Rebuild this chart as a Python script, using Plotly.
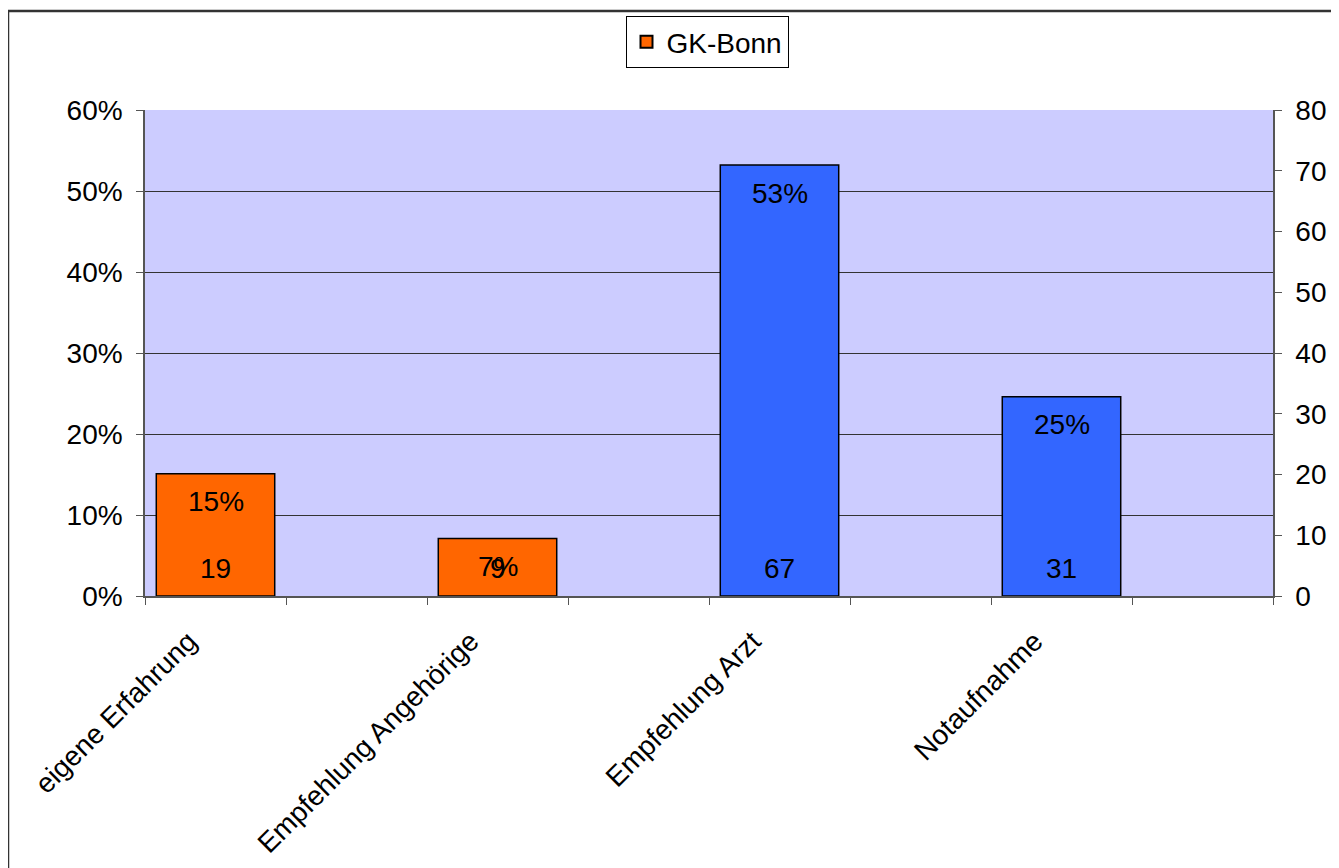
import plotly.graph_objects as go

categories = ["eigene Erfahrung", "Empfehlung Angehörige", "Empfehlung Arzt", "Notaufnahme"]
counts = [19, 9, 67, 31]
percents = [0.151, 0.071, 0.532, 0.246]
pct_labels = ["15%", "7%", "53%", "25%"]
bar_colors = ["#FF6600", "#FF6600", "#3366FF", "#3366FF"]
series_name = "GK-Bonn"

# bars sit in every second slot of an 8-slot category axis
xpos = [2 * i for i in range(len(categories))]
label_pos = [x - 0.19 for x in xpos]
FONT = "Liberation Sans, Arial, Helvetica, sans-serif"
FS = 28

fig = go.Figure()
fig.add_trace(go.Bar(
    x=xpos, y=percents, name=series_name, width=0.84,
    marker=dict(color=bar_colors, line=dict(color="black", width=1.5)),
    hoverinfo="skip", yaxis="y",
))
fig.add_trace(go.Scatter(
    x=xpos, y=counts, mode="markers", marker=dict(opacity=0),
    showlegend=False, hoverinfo="skip", yaxis="y2",
))

annotations = []
for xp, p, lab, c in zip(xpos, percents, pct_labels, counts):
    annotations.append(dict(x=xp, y=p, xref="x", yref="y", text=lab, showarrow=False,
                            yanchor="middle", yshift=-28, font=dict(family=FONT, size=FS, color="black")))
    annotations.append(dict(x=xp, y=0, xref="x", yref="y", text=str(c), showarrow=False,
                            yanchor="middle", yshift=28, font=dict(family=FONT, size=FS, color="black")))

W, H = 1331, 860
L, R, T, B = 137, 66, 102, 272
PW, PH = W - L - R, H - T - B

fig.update_layout(
    width=W, height=H,
    margin=dict(l=L, r=R, t=T, b=B, autoexpand=False),
    paper_bgcolor="white", plot_bgcolor="#CCCCFF",
    font=dict(family=FONT, size=FS, color="black"),
    showlegend=True,
    legend=dict(x=(699 - L) / PW, y=(H - B - 34) / PH, xanchor="center", yanchor="middle",
                bgcolor="white", bordercolor="black", borderwidth=1,
                font=dict(family=FONT, size=FS), itemsizing="constant"),
    xaxis=dict(range=[-0.5, 7.5], tickmode="array", tickvals=label_pos, ticktext=categories,
               tickangle=-45, ticks="", showgrid=False, zeroline=False, automargin=False,
               showline=True, linecolor="#555", linewidth=1.5,
               ticklabelstandoff=16,
               minor=dict(tickmode="array", tickvals=[i - 0.5 for i in range(9)],
                          ticks="outside", ticklen=7, tickcolor="#555", showgrid=False)),
    yaxis=dict(range=[0, 0.6], dtick=0.1, tickformat=".0%", ticks="outside", ticklen=7,
               tickcolor="#555", showgrid=True, gridcolor="#333", gridwidth=1, automargin=False,
               showline=True, linecolor="#555", linewidth=1.5, zeroline=False,
               ticklabelstandoff=8),
    yaxis2=dict(range=[0, 80], dtick=10, overlaying="y", side="right", ticks="outside",
                ticklen=7, tickcolor="#555", showgrid=False, showline=True, automargin=False,
                linecolor="#555", linewidth=1.5, zeroline=False, ticklabelstandoff=8),
    annotations=annotations,
    shapes=[dict(type="rect", xref="paper", yref="paper",
                 x0=(0 - L) / PW, x1=(1360 - L) / PW,
                 y0=(H - B - 880) / PH, y1=(H - B - 3) / PH,
                 line=dict(color="#333", width=2.5), fillcolor="rgba(0,0,0,0)", layer="below")],
    hovermode=False,
)

fig.write_html("out.html")
